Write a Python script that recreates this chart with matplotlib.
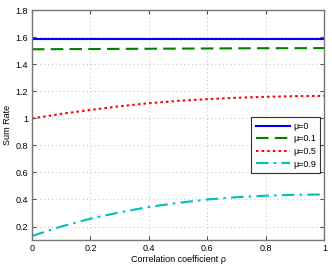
import numpy as np
import matplotlib
matplotlib.use("Agg")
import matplotlib.pyplot as plt

rho = [0.0, 0.1, 0.2, 0.3, 0.4, 0.5, 0.6, 0.7, 0.8, 0.9, 1.0]
mu0 = [1.587, 1.587, 1.587, 1.587, 1.587, 1.587, 1.587, 1.587, 1.587, 1.587, 1.587]
mu01 = [1.512, 1.513, 1.514, 1.515, 1.516, 1.517, 1.518, 1.519, 1.520, 1.520, 1.521]
mu05 = [1.000, 1.034, 1.063, 1.090, 1.113, 1.130, 1.143, 1.153, 1.160, 1.165, 1.167]
mu09 = [0.130, 0.200, 0.258, 0.305, 0.345, 0.375, 0.400, 0.417, 0.428, 0.435, 0.437]
labels = ["\u03bc=0", "\u03bc=0.1", "\u03bc=0.5", "\u03bc=0.9"]
xticks = [0, 0.2, 0.4, 0.6, 0.8, 1]
yticks = [0.2, 0.4, 0.6, 0.8, 1.0, 1.2, 1.4, 1.6, 1.8]

plt.rcParams['font.family'] = ['Liberation Sans', 'DejaVu Sans']
fig = plt.figure(figsize=(3.32, 2.66), dpi=100)
ax = fig.add_axes([0.0964, 0.0977, 0.8806, 0.8633])

ax.plot(rho, mu0, color='#0000ff', lw=1.5, ls='-', label=labels[0])
ax.plot(rho, mu01, color='#008000', lw=1.5, ls=(0, (6, 3)), label=labels[1])
ax.plot(rho, mu05, color='#ff0000', lw=1.5, ls=(0, (1.2, 1.5)), label=labels[2])
ax.plot(rho, mu09, color='#00bfbf', lw=1.5, ls=(0, (6, 2.5, 1.2, 2.5)), label=labels[3])

ax.set_xlim(0, 1)
ax.set_ylim(0.1, 1.8)
ax.set_xticks(xticks)
ax.set_xticklabels(["0", "0.2", "0.4", "0.6", "0.8", "1"])
ax.set_yticks(yticks)
ax.set_yticklabels(["0.2", "0.4", "0.6", "0.8", "1", "1.2", "1.4", "1.6", "1.8"])
ax.grid(True, color='#c0c0c0', ls=(0, (1, 3)), lw=0.7)
ax.tick_params(direction='in', length=3, width=0.8, color='#555555', labelsize=6.5,
               top=True, right=True, pad=3)
for s in ax.spines.values():
    s.set_color('#777777')
    s.set_linewidth(1.0)
ax.set_xlabel("Correlation coefficient \u03c1", fontsize=6.5, labelpad=1)
ax.set_ylabel("Sum Rate", fontsize=6.5, labelpad=2)

leg = ax.legend(loc='upper right', bbox_to_anchor=(0.9863, 0.535), fontsize=6.5,
                frameon=True, fancybox=False, handlelength=3.8, handletextpad=0.3,
                borderpad=0.5, labelspacing=0.4, borderaxespad=0)
leg.get_frame().set_edgecolor('black')
leg.get_frame().set_linewidth(0.8)

fig.savefig("out.png", dpi=100)
